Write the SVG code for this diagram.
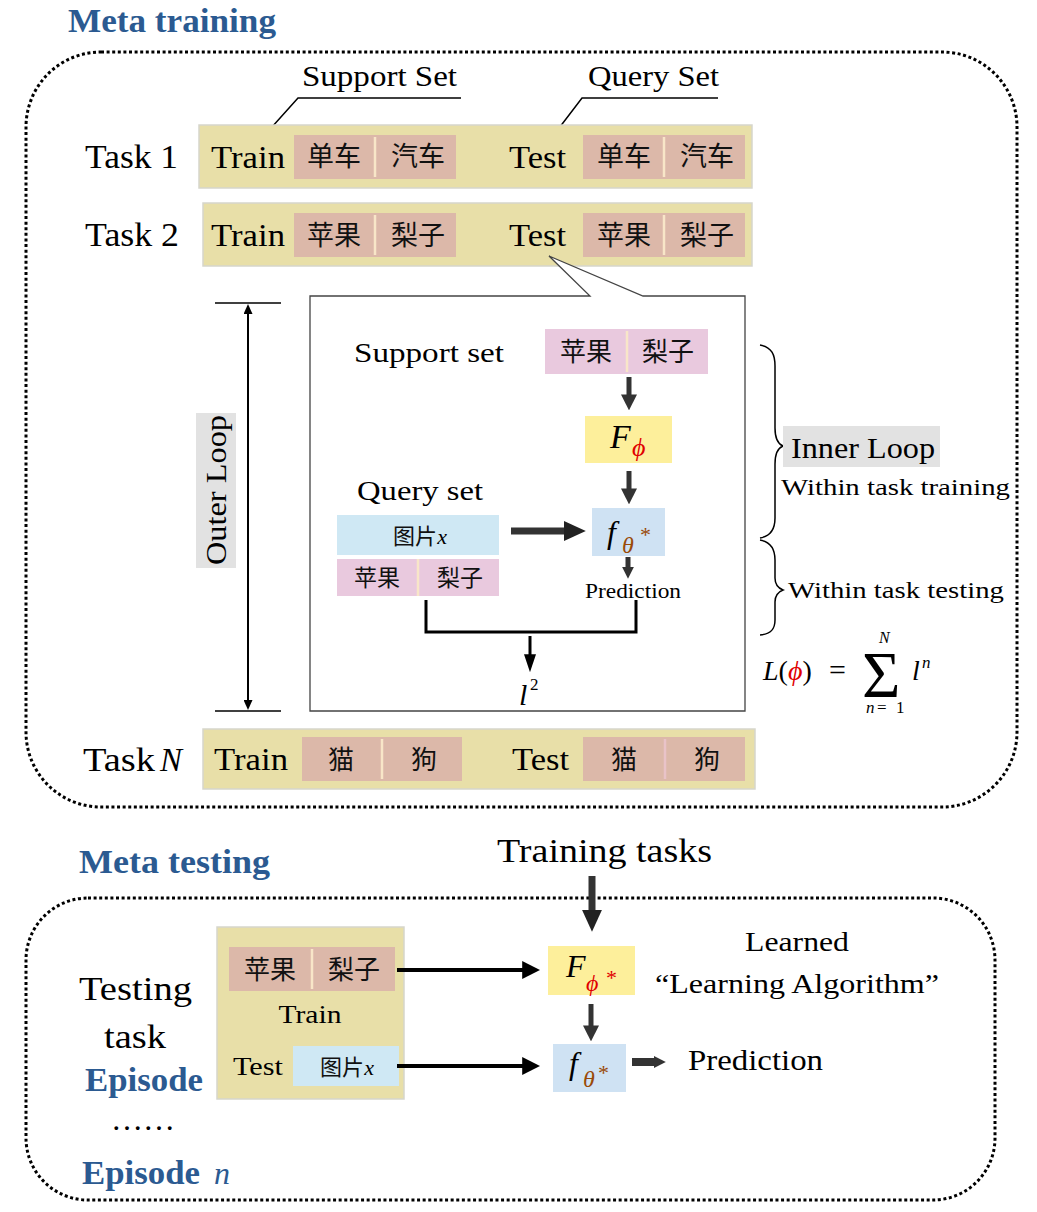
<svg xmlns="http://www.w3.org/2000/svg" width="1037" height="1212" viewBox="0 0 1037 1212">
<style>
.t{font-family:"Liberation Serif","DejaVu Serif",serif;fill:#000}
.it{font-style:italic}
.cj{font-family:"Noto Sans CJK SC","Noto Sans CJK JP",sans-serif;fill:#111}
.ttl{font-family:"Liberation Serif","DejaVu Serif",serif;font-weight:bold;fill:#2b5a91}
.khaki{fill:#e8dfa8;stroke:#d6d6cc;stroke-width:1.5}
.pk{fill:#dcb8a9}
.pp{fill:#e9c9de}
.lb{fill:#cfe8f4}
.div{stroke:#f8e6c8;stroke-width:2.5}
.dot{fill:none;stroke:#000;stroke-width:3;stroke-dasharray:3 2.6}
.dk{stroke:#333;fill:none}
.thin{stroke:#000;fill:none;stroke-width:1.5}
</style>
<defs>
<marker id="hb" viewBox="0 0 10 10" refX="1" refY="5" markerWidth="16" markerHeight="16" markerUnits="userSpaceOnUse" orient="auto"><path d="M0,0 L10,5 L0,10 z" fill="#333"/></marker>
<marker id="hbig" viewBox="0 0 10 10" refX="1" refY="5" markerWidth="22" markerHeight="20" markerUnits="userSpaceOnUse" orient="auto" preserveAspectRatio="none"><path d="M0,0 L10,5 L0,10 z" fill="#222"/></marker>
<marker id="hs" viewBox="0 0 10 10" refX="1" refY="5" markerWidth="12" markerHeight="12" markerUnits="userSpaceOnUse" orient="auto"><path d="M0,0 L10,5 L0,10 z" fill="#333"/></marker>
<marker id="hk" viewBox="0 0 10 10" refX="1" refY="5" markerWidth="18" markerHeight="18" markerUnits="userSpaceOnUse" orient="auto"><path d="M0,0 L10,5 L0,10 z" fill="#000"/></marker>
<marker id="hl" viewBox="0 0 10 10" refX="1" refY="5" markerWidth="18" markerHeight="12" markerUnits="userSpaceOnUse" orient="auto" preserveAspectRatio="none"><path d="M0,0 L10,5 L0,10 z" fill="#000"/></marker>
<marker id="ho" viewBox="0 0 10 10" refX="1" refY="5" markerWidth="10" markerHeight="9" markerUnits="userSpaceOnUse" orient="auto-start-reverse" preserveAspectRatio="none"><path d="M0,0 L10,5 L0,10 z" fill="#000"/></marker>
</defs>
<rect width="1037" height="1212" fill="#fff"/>

<!-- Meta training -->
<text class="ttl" x="68" y="32" font-size="34" textLength="208" lengthAdjust="spacingAndGlyphs">Meta training</text>
<rect class="dot" x="26" y="52" width="991" height="755" rx="75"/>

<g id="labels-sets">
<text class="t" x="302" y="86" font-size="29" textLength="155" lengthAdjust="spacingAndGlyphs">Support Set</text>
<text class="t" x="588" y="86" font-size="29" textLength="131" lengthAdjust="spacingAndGlyphs">Query Set</text>
<path class="thin" d="M263,137 L298,98 L461,98"/>
<path class="thin" d="M553,136 L582,98 L718,98"/>
</g>

<g id="task1">
<text class="t" x="85" y="168" font-size="33" textLength="93" lengthAdjust="spacingAndGlyphs">Task 1</text>
<rect class="khaki" x="199" y="125" width="553" height="63"/>
<text class="t" x="211" y="168" font-size="31" textLength="74" lengthAdjust="spacingAndGlyphs">Train</text>
<rect class="pk" x="294" y="135" width="162" height="44"/>
<line class="div" x1="375" y1="137" x2="375" y2="177"/>
<text class="cj" x="334" y="166" font-size="27" text-anchor="middle">单车</text>
<text class="cj" x="418" y="166" font-size="27" text-anchor="middle">汽车</text>
<text class="t" x="509" y="168" font-size="31" textLength="57" lengthAdjust="spacingAndGlyphs">Test</text>
<rect class="pk" x="583" y="135" width="162" height="44"/>
<line class="div" x1="664" y1="137" x2="664" y2="177"/>
<text class="cj" x="624" y="166" font-size="27" text-anchor="middle">单车</text>
<text class="cj" x="707" y="166" font-size="27" text-anchor="middle">汽车</text>
</g>

<g id="task2">
<text class="t" x="85" y="246" font-size="33" textLength="94" lengthAdjust="spacingAndGlyphs">Task 2</text>
<rect class="khaki" x="203" y="203" width="549" height="63"/>
<text class="t" x="211" y="246" font-size="31" textLength="74" lengthAdjust="spacingAndGlyphs">Train</text>
<rect class="pk" x="294" y="213" width="162" height="44"/>
<line class="div" x1="375" y1="215" x2="375" y2="255"/>
<text class="cj" x="334" y="245" font-size="27" text-anchor="middle">苹果</text>
<text class="cj" x="418" y="245" font-size="27" text-anchor="middle">梨子</text>
<text class="t" x="509" y="246" font-size="31" textLength="57" lengthAdjust="spacingAndGlyphs">Test</text>
<rect class="pk" x="583" y="213" width="162" height="44"/>
<line class="div" x1="664" y1="215" x2="664" y2="255"/>
<text class="cj" x="624" y="245" font-size="27" text-anchor="middle">苹果</text>
<text class="cj" x="707" y="245" font-size="27" text-anchor="middle">梨子</text>
</g>

<g id="callout">
<path d="M310,296 L590,296 L549,256 L643,296 L745,296 L745,711 L310,711 Z" fill="#fff" stroke="#444" stroke-width="1.3"/>
</g>

<g id="outer-loop">
<line class="thin" x1="215" y1="303" x2="281" y2="303"/>
<line class="thin" x1="215" y1="711" x2="281" y2="711"/>
<rect x="196" y="413" width="40" height="155" fill="#e2e2e2"/>
<text class="t" x="0" y="0" font-size="29" text-anchor="middle" textLength="150" lengthAdjust="spacingAndGlyphs" transform="translate(226,490) rotate(-90)">Outer Loop</text>
</g>

<g id="support-set">
<text class="t" x="354" y="362" font-size="28" textLength="150" lengthAdjust="spacingAndGlyphs">Support set</text>
<rect class="pp" x="545" y="329" width="163" height="45"/>
<line class="div" x1="627" y1="331" x2="627" y2="372"/>
<text class="cj" x="586" y="361" font-size="26" text-anchor="middle">苹果</text>
<text class="cj" x="668" y="361" font-size="26" text-anchor="middle">梨子</text>
</g>

<g id="F-phi">
<rect x="585" y="416" width="87" height="47" fill="#fdef9b"/>
<text class="t it" x="610" y="448" font-size="34">F</text>
<text class="t it" x="632" y="456" font-size="26" style="fill:#e00000">ϕ</text>
</g>

<g id="query-set">
<text class="t" x="357" y="500" font-size="28" textLength="126" lengthAdjust="spacingAndGlyphs">Query set</text>
<rect class="lb" x="337" y="515" width="162" height="40"/>
<text x="420" y="544" font-size="22" text-anchor="middle"><tspan class="cj">图片</tspan><tspan class="t it">x</tspan></text>
<rect class="pp" x="337" y="559" width="162" height="37"/>
<line class="div" x1="418" y1="559" x2="418" y2="596"/>
<text class="cj" x="377" y="586" font-size="23" text-anchor="middle">苹果</text>
<text class="cj" x="460" y="586" font-size="23" text-anchor="middle">梨子</text>
</g>

<g id="f-theta">
<rect x="592" y="508" width="73" height="48" fill="#cfe2f3"/>
<text class="t it" x="607" y="543" font-size="32">f</text>
<text class="t it" x="622" y="553" font-size="24" style="fill:#9a4a08">θ</text>
<text class="t" x="640" y="542" font-size="22" style="fill:#9a4a08">*</text>
</g>

<text id="prediction-inner" class="t" x="633" y="598" font-size="21" text-anchor="middle" textLength="96" lengthAdjust="spacingAndGlyphs">Prediction</text>

<g id="loss">
<text class="t it" x="519" y="705" font-size="30">l</text>
<text class="t" x="530" y="690" font-size="17">2</text>
</g>

<g id="inner-loop">
<path class="thin" d="M760,345 C772,347 775,355 775,366 L775,428 C775,438 778,444 783,446 C778,448 775,454 775,464 L775,518 C775,528 772,536 760,538"/>
<path class="thin" d="M760,540 C772,542 775,550 775,560 L775,578 C775,585 778,588 783,590 C778,592 775,595 775,602 L775,620 C775,628 772,634 760,635"/>
<rect x="783" y="426" width="157" height="41" fill="#e2e2e2"/>
<text class="t" x="791" y="458" font-size="29" textLength="144" lengthAdjust="spacingAndGlyphs">Inner Loop</text>
<text class="t" x="781" y="495" font-size="24" textLength="229" lengthAdjust="spacingAndGlyphs">Within task training</text>
<text class="t" x="788" y="598" font-size="24" textLength="216" lengthAdjust="spacingAndGlyphs">Within task testing</text>
</g>

<g id="loss-formula">
<text class="t" font-size="28"><tspan x="763" y="680" class="it">L</tspan><tspan>(</tspan><tspan class="it" style="fill:#e00000">ϕ</tspan><tspan>)</tspan><tspan x="829" y="680" font-size="30">=</tspan><tspan x="862" y="697" font-size="66">Σ</tspan><tspan x="879" y="643" font-size="16" class="it">N</tspan><tspan x="866" y="713" font-size="17" class="it">n</tspan><tspan x="877" y="713" font-size="17">=</tspan><tspan x="896" y="713" font-size="17">1</tspan><tspan x="912" y="680" class="it">l</tspan><tspan x="922" y="668" font-size="17" class="it">n</tspan></text>
</g>

<g id="taskN">
<text class="t" x="83" y="771" font-size="33" textLength="72" lengthAdjust="spacingAndGlyphs">Task</text>
<text class="t it" x="160" y="771" font-size="33">N</text>
<rect class="khaki" x="203" y="729" width="552" height="60"/>
<text class="t" x="214" y="770" font-size="31" textLength="74" lengthAdjust="spacingAndGlyphs">Train</text>
<rect class="pk" x="302" y="737" width="160" height="44"/>
<line class="div" x1="382" y1="739" x2="382" y2="779"/>
<text class="cj" x="341" y="769" font-size="26" text-anchor="middle">猫</text>
<text class="cj" x="424" y="769" font-size="26" text-anchor="middle">狗</text>
<text class="t" x="512" y="770" font-size="31" textLength="57" lengthAdjust="spacingAndGlyphs">Test</text>
<rect class="pk" x="583" y="737" width="162" height="44"/>
<line x1="665" y1="739" x2="665" y2="779" stroke="#e9c3c8" stroke-width="2.5"/>
<text class="cj" x="624" y="769" font-size="26" text-anchor="middle">猫</text>
<text class="cj" x="707" y="769" font-size="26" text-anchor="middle">狗</text>
</g>

<!-- Meta testing -->
<text class="ttl" x="79" y="873" font-size="34" textLength="191" lengthAdjust="spacingAndGlyphs">Meta testing</text>
<text id="training-tasks" class="t" x="497" y="862" font-size="33" textLength="215" lengthAdjust="spacingAndGlyphs">Training tasks</text>
<rect class="dot" x="26" y="898" width="969" height="302" rx="62"/>

<g id="episode-labels">
<text class="t" x="79" y="1000" font-size="33" textLength="113" lengthAdjust="spacingAndGlyphs">Testing</text>
<text class="t" x="104" y="1048" font-size="33" textLength="62" lengthAdjust="spacingAndGlyphs">task</text>
<text class="ttl" x="85" y="1091" font-size="33" textLength="118" lengthAdjust="spacingAndGlyphs">Episode</text>
<text class="t" x="111" y="1130" font-size="32">……</text>
<text class="ttl" x="82" y="1184" font-size="33" textLength="118" lengthAdjust="spacingAndGlyphs">Episode</text>
<text class="t it" x="214" y="1184" font-size="32" style="fill:#2b5a91">n</text>
</g>

<g id="testing-task">
<rect class="khaki" x="217" y="927" width="187" height="172"/>
<rect class="pk" x="229" y="947" width="166" height="44"/>
<line class="div" x1="312" y1="949" x2="312" y2="989"/>
<text class="cj" x="270" y="979" font-size="26" text-anchor="middle">苹果</text>
<text class="cj" x="354" y="979" font-size="26" text-anchor="middle">梨子</text>
<text class="t" x="310" y="1023" font-size="26" text-anchor="middle" textLength="63" lengthAdjust="spacingAndGlyphs">Train</text>
<text class="t" x="233" y="1075" font-size="26" textLength="50" lengthAdjust="spacingAndGlyphs">Test</text>
<rect class="lb" x="293" y="1046" width="106" height="40"/>
<text x="347" y="1075" font-size="22" text-anchor="middle"><tspan class="cj">图片</tspan><tspan class="t it">x</tspan></text>
</g>

<g id="F-phi-star">
<rect x="548" y="946" width="87" height="49" fill="#fdef9b"/>
<text class="t it" x="566" y="977" font-size="32">F</text>
<text class="t it" x="586" y="991" font-size="24" style="fill:#e00000">ϕ</text>
<text class="t" x="606" y="985" font-size="22" style="fill:#e00000">*</text>
</g>

<g id="f-theta-star">
<rect x="553" y="1044" width="73" height="48" fill="#cfe2f3"/>
<text class="t it" x="569" y="1074" font-size="32">f</text>
<text class="t it" x="583" y="1087" font-size="24" style="fill:#9a4a08">θ</text>
<text class="t" x="598" y="1080" font-size="22" style="fill:#9a4a08">*</text>
</g>

<g id="learned">
<text class="t" x="797" y="951" font-size="28" text-anchor="middle" textLength="104" lengthAdjust="spacingAndGlyphs">Learned</text>
<text class="t" x="797" y="993" font-size="28" text-anchor="middle" textLength="284" lengthAdjust="spacingAndGlyphs">“Learning Algorithm”</text>
</g>
<text id="prediction" class="t" x="688" y="1070" font-size="29" textLength="135" lengthAdjust="spacingAndGlyphs">Prediction</text>

<g id="connectors">
<line class="dk" x1="629" y1="377" x2="629" y2="396" stroke-width="5" marker-end="url(#hb)"/>
<line class="dk" x1="629" y1="471" x2="629" y2="490" stroke-width="5" marker-end="url(#hb)"/>
<line class="dk" x1="511" y1="531" x2="566" y2="531" stroke-width="7" marker-end="url(#hbig)"/>
<line class="dk" x1="628" y1="557" x2="628" y2="568" stroke-width="5" marker-end="url(#hs)"/>
<path d="M426,600 L426,632 L636,632 L636,600" fill="none" stroke="#000" stroke-width="3"/>
<line x1="530" y1="636" x2="530" y2="656" stroke="#000" stroke-width="3" marker-end="url(#hl)"/>
<line x1="248" y1="313" x2="248" y2="701" stroke="#000" stroke-width="2" marker-start="url(#ho)" marker-end="url(#ho)"/>
<line class="dk" x1="592" y1="876" x2="592" y2="912" stroke-width="7" marker-end="url(#hbig)"/>
<line x1="397" y1="970" x2="524" y2="970" stroke="#000" stroke-width="4" marker-end="url(#hk)"/>
<line x1="397" y1="1066" x2="524" y2="1066" stroke="#000" stroke-width="4" marker-end="url(#hk)"/>
<line class="dk" x1="591" y1="1004" x2="591" y2="1027" stroke-width="5" marker-end="url(#hb)"/>
<line class="dk" x1="632" y1="1062" x2="655" y2="1062" stroke-width="8" marker-end="url(#hs)"/>
</g>
</svg>
